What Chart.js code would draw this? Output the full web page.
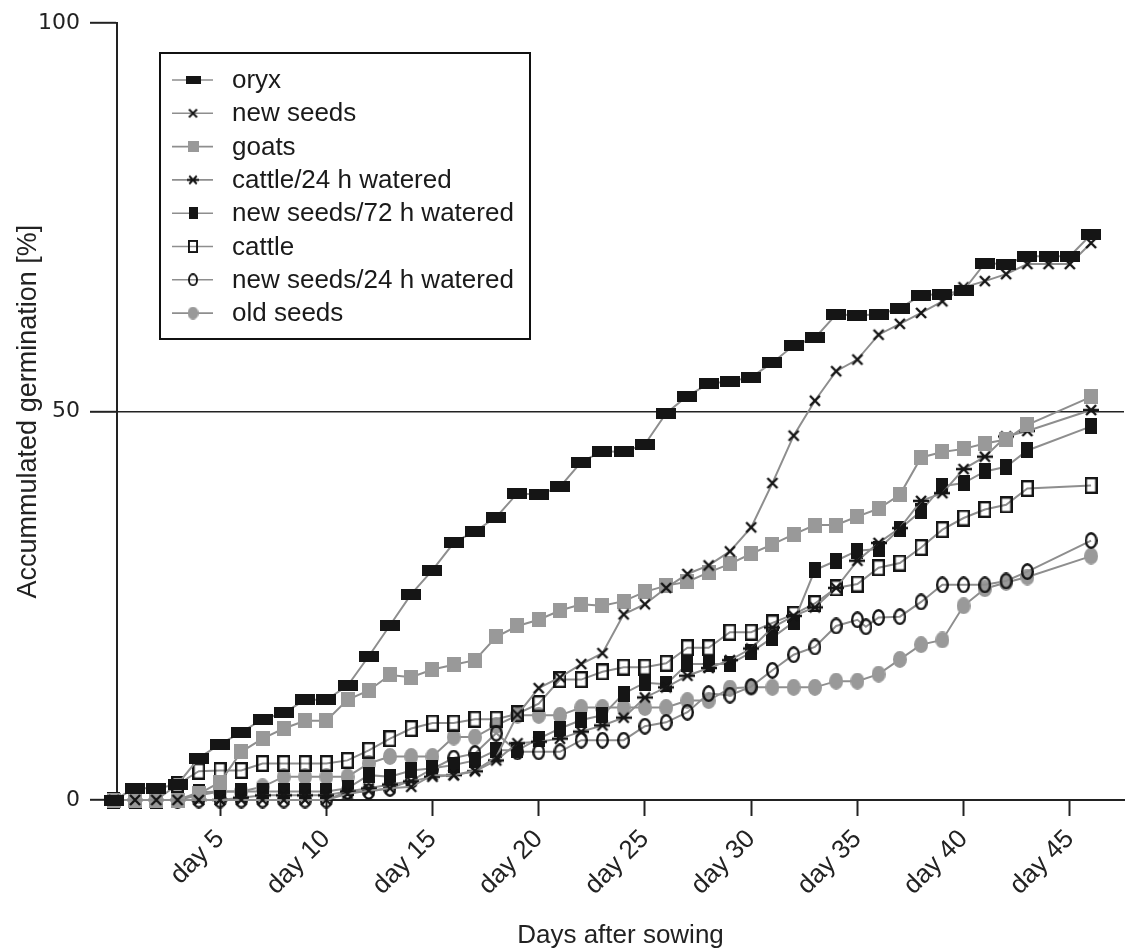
<!DOCTYPE html>
<html>
<head>
<meta charset="utf-8">
<script src="https://cdn.jsdelivr.net/npm/chart.js@4.4.1/dist/chart.umd.min.js"></script>
<style>
  html, body { margin: 0; padding: 0; background: #fff; }
</style>
</head>
<body>
<canvas id="myChart" width="1133" height="951"></canvas>
<script>
// day index of each count
const days = [0,1,2,3,4,5,6,7,8,9,10,11,12,13,14,15,16,17,18,19,20,21,22,23,24,25,26,27,28,29,30,31,32,33,34,35,36,37,38,39,40,41,42,43,44,45,46];
const xTicks = [5,10,15,20,25,30,35,40,45];
const yTicks = [0,50,100];

const oryx     = [0,1.5,1.5,2.0,5.4,7.2,8.7,10.4,11.2,12.9,12.9,14.7,18.5,22.5,26.5,29.6,33.1,34.6,36.4,39.5,39.3,40.3,43.5,44.9,44.8,45.8,49.8,52.0,53.6,53.9,54.4,56.3,58.5,59.5,62.5,62.4,62.5,63.3,65.0,65.1,65.6,69.1,69.0,70.0,70.0,70.0,72.8];
const newSeeds = [0,0,0,0,0,0,0,0,0,0,0,0.8,1.2,1.5,1.7,3.2,3.2,3.8,5.5,11.0,14.4,15.8,17.5,18.9,23.9,25.2,27.3,29.1,30.2,32.0,35.1,40.8,46.9,51.4,55.2,56.7,59.9,61.3,62.7,64.2,66.0,66.8,67.7,69.0,69.0,69.0,71.7];
const goats    = [0,0,0,0,0.8,2.3,6.2,7.9,9.2,10.2,10.2,12.9,14.1,16.1,15.8,16.8,17.4,18.0,21.0,22.4,23.2,24.4,25.2,25.0,25.6,26.8,27.6,28.1,29.3,30.4,31.7,32.9,34.2,35.4,35.4,36.5,37.5,39.3,44.1,44.8,45.2,45.9,46.4,48.3,null,null,51.9];
const cattle24 = [0,0,0,0,0,0,0.3,0.6,0.6,0.6,0.6,1.1,1.5,2.0,2.4,3.0,3.2,3.7,5.1,7.3,7.5,7.9,8.8,9.6,10.6,13.2,14.5,16.0,17.0,18.0,19.5,22.2,23.7,24.8,27.3,30.8,33.1,35.0,38.5,39.5,42.6,44.2,46.8,47.5,null,null,50.2];
const seeds72  = [0,0,0,0,1.0,1.1,1.1,1.1,1.1,1.1,1.1,1.5,3.2,3.0,3.8,4.1,4.5,5.1,6.4,6.4,7.9,9.2,10.3,10.9,13.7,15.1,14.9,17.5,17.5,17.5,19.0,20.9,22.9,29.6,30.8,32.1,32.3,34.9,37.2,40.4,40.8,42.3,42.9,45.0,null,null,48.1];
const cattle   = [0,0,0,2.0,3.7,3.8,3.8,4.7,4.7,4.7,4.7,5.1,6.4,7.9,9.2,9.9,9.9,10.4,10.4,11.1,12.4,15.5,15.5,16.5,17.1,17.1,17.6,19.6,19.6,21.6,21.6,22.8,23.9,25.3,27.3,27.8,29.9,30.5,32.5,34.8,36.3,37.4,38.0,40.1,null,null,40.5];
const oldSeeds = [0,0,0,0,0.6,1.1,1.1,1.7,3.0,3.0,3.0,3.0,4.7,5.6,5.6,5.6,8.1,8.1,9.6,10.9,10.9,10.9,11.9,11.9,11.9,11.9,11.9,12.8,12.8,14.4,14.5,14.5,14.5,14.5,15.3,15.3,16.2,18.1,20.0,20.6,25.0,27.2,28.0,28.7,null,null,31.4];
// new seeds/24 h watered has its own day list (one extra count between day 35 and 36)
const days24   = [0,1,2,3,4,5,6,7,8,9,10,11,12,13,14,15,16,17,18,19,20,21,22,23,24,25,26,27,28,29,30,31,32,33,34,35,35.4,36,37,38,39,40,41,42,43,46];
const seeds24  = [0,0,0,0,0,0,0,0,0,0,0,1.1,1.1,1.5,2.5,4.0,5.4,6.0,8.6,6.2,6.2,6.2,7.7,7.7,7.7,9.5,10.0,11.3,13.7,13.5,14.6,16.7,18.7,19.7,22.4,23.2,22.3,23.5,23.6,25.5,27.7,27.7,27.7,28.2,29.4,33.4];

const labels = ['oryx','new seeds','goats','cattle/24 h watered','new seeds/72 h watered','cattle','new seeds/24 h watered','old seeds'];
const kinds  = ['wide','x','gsq','xbar','tall','osq','ocirc','gcirc'];

const BLACK = '#151515', GREY = '#999999', LINE = '#8e8e8e';

function makeMarker( kind, s ){
  let c = document.createElement('canvas');
  let w = 14, h = 14;
  if( kind == 'wide' ){ w = 20; h = 11; }
  if( kind == 'gsq' ){ w = 14; h = 15; }
  if( kind == 'tall' ){ w = 12; h = 16; }
  if( kind == 'osq' ){ w = 13; h = 17; }
  if( kind == 'ocirc' ){ w = 13; h = 17; }
  if( kind == 'gcirc' ){ w = 14; h = 17; }
  if( kind == 'xbar' ){ w = 16; h = 14; }
  w = Math.round(w*s); h = Math.round(h*s);
  c.width = w; c.height = h;
  let g = c.getContext('2d');
  g.lineWidth = 2.4*Math.max(s,0.8);
  g.strokeStyle = BLACK;
  if( kind == 'wide' || kind == 'tall' ){
    g.fillStyle = BLACK; g.fillRect(0,0,w,h);
  } else if( kind == 'gsq' ){
    g.fillStyle = GREY; g.fillRect(0,0,w,h);
  } else if( kind == 'osq' ){
    let lw = g.lineWidth;
    g.strokeRect(lw/2, lw/2, w-lw, h-lw);
  } else if( kind == 'ocirc' ){
    let lw = g.lineWidth;
    g.beginPath(); g.ellipse(w/2, h/2, w/2-lw/2, h/2-lw/2, 0, 0, Math.PI*2); g.stroke();
  } else if( kind == 'gcirc' ){
    g.fillStyle = GREY;
    g.beginPath(); g.ellipse(w/2, h/2, w/2, h/2, 0, 0, Math.PI*2); g.fill();
  } else if( kind == 'x' || kind == 'xbar' ){
    let p = 2*s, q = (kind == 'xbar') ? 3*s : 2*s;
    g.beginPath();
    g.moveTo(q, p); g.lineTo(w-q, h-p);
    g.moveTo(w-q, p); g.lineTo(q, h-p);
    if( kind == 'xbar' ){ g.moveTo(0, h/2); g.lineTo(w, h/2); }
    g.stroke();
  }
  return c;
}

function pts( xs, ys ){
  return xs.map( (d, i) => ({ x: d, y: ys[i] }) );
}

const seriesData = [
  pts(days, oryx), pts(days, newSeeds), pts(days, goats), pts(days, cattle24),
  pts(days, seeds72), pts(days, cattle), pts(days24, seeds24), pts(days, oldSeeds)
];

const datasets = labels.map( (lab, i) => ({
  label: lab,
  data: seriesData[i],
  borderColor: LINE,
  borderWidth: 2,
  pointStyle: makeMarker(kinds[i], 1),
  pointRadius: 7,
  spanGaps: true,
  tension: 0,
  clip: false
}));

const legendBox = {
  id: 'legendBox',
  afterDraw( chart ){
    let ctx = chart.ctx;
    ctx.save();
    ctx.lineWidth = 2;
    ctx.strokeStyle = '#111';
    ctx.strokeRect(160, 53, 370, 286);
    ctx.font = '26px "Liberation Sans", Arial, sans-serif';
    ctx.fillStyle = '#1a1a1a';
    ctx.textBaseline = 'middle';
    for( let i = 0 ; i < labels.length ; i++ ){
      let y = 80 + i*33.3;
      ctx.strokeStyle = LINE;
      ctx.lineWidth = 1.6;
      ctx.beginPath(); ctx.moveTo(172, y); ctx.lineTo(213, y); ctx.stroke();
      let m = makeMarker(kinds[i], 0.75);
      ctx.drawImage(m, 193 - m.width/2, y - m.height/2);
      ctx.fillText(labels[i], 232, y + 1);
    }
    ctx.restore();
  }
};

Chart.defaults.font.family = '"Liberation Sans", Arial, sans-serif';
Chart.defaults.color = '#222';

let canvas = document.getElementById('myChart');
let chart = new Chart(canvas.getContext('2d'), {
  type: 'line',
  data: { datasets: datasets },
  options: {
    responsive: false,
    animation: false,
    devicePixelRatio: 1,
    layout: { padding: { top: 20, right: 3, left: 0, bottom: 0 } },
    plugins: { legend: { display: false }, tooltip: { enabled: false } },
    scales: {
      x: {
        type: 'linear',
        min: 0.15,
        max: 47.55,
        afterBuildTicks: s => { s.ticks = xTicks.map( v => ({ value: v }) ); },
        afterFit: s => { s.height = 151; },
        ticks: {
          callback: v => 'day ' + v,
          maxRotation: 45, minRotation: 45, autoSkip: false,
          font: { size: 26 }, color: '#222', padding: 8
        },
        grid: { drawOnChartArea: false, tickLength: 16, tickColor: '#222', tickWidth: 2 },
        border: { display: true, color: '#222', width: 2 },
        title: { display: true, text: 'Days after sowing', font: { size: 26 }, color: '#222', padding: { top: 0, bottom: 0 } }
      },
      y: {
        min: 0,
        max: 100,
        afterBuildTicks: s => { s.ticks = yTicks.map( v => ({ value: v }) ); },
        afterFit: s => { s.width = 117; },
        ticks: { font: { family: '"DejaVu Sans", Verdana, sans-serif', size: 22 }, color: '#222', padding: 10 },
        grid: {
          color: c => ( c.tick && c.tick.value == 50 ) ? '#222' : 'rgba(0,0,0,0)',
          lineWidth: 1.6, tickLength: 27, tickColor: '#222', tickWidth: 2
        },
        border: { display: true, color: '#222', width: 2 },
        title: { display: true, text: 'Accummulated germination [%]', font: { size: 27 }, color: '#222', padding: { top: 12, bottom: 0 } }
      }
    }
  },
  plugins: [legendBox]
});
</script>
</body>
</html>
